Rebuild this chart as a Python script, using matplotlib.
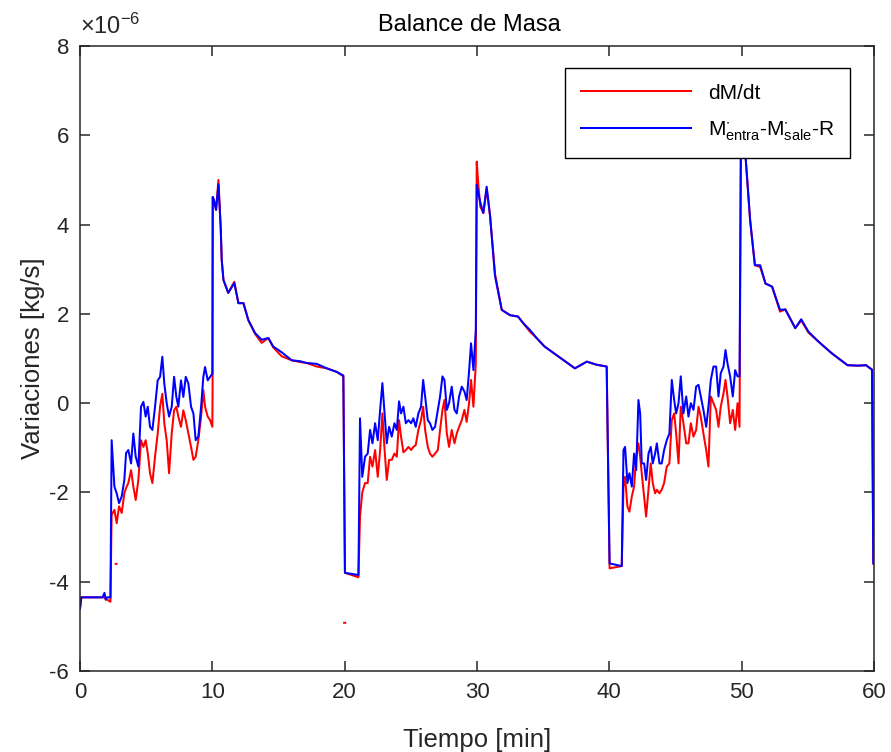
import numpy as np
import matplotlib
matplotlib.use("Agg")
import matplotlib.pyplot as plt
from matplotlib.ticker import FuncFormatter

plt.rcParams['font.family'] = ['Liberation Sans', 'DejaVu Sans']
plt.rcParams['mathtext.fontset'] = 'custom'
plt.rcParams['mathtext.rm'] = 'Liberation Sans'
plt.rcParams['mathtext.it'] = 'Liberation Sans'
plt.rcParams['axes.unicode_minus'] = False

# %% data (values in 1e-6 kg/s, time in min)
# cycle 1
t_start = [0.0, 0.1, 1.7, 1.85, 1.95, 2.05, 2.3]
blue_start = [-4.6, -4.35, -4.35, -4.25, -4.4, -4.35, -4.35]
red_start = [-4.6, -4.35, -4.35, -4.35, -4.4, -4.4, -4.45]

t_noise1 = [2.39, 2.60, 2.77, 2.95, 3.15, 3.35, 3.48, 3.65, 3.86, 4.03, 4.21, 4.41, 4.61, 4.79, 4.96,
            5.12, 5.29, 5.47, 5.67, 5.87, 6.05, 6.22, 6.37, 6.55, 6.73, 6.93, 7.11, 7.28, 7.43, 7.63,
            7.81, 7.99, 8.19, 8.39, 8.57, 8.74, 8.94, 9.15, 9.32, 9.45, 9.65, 9.83, 10.0]
blue_noise1 = [-0.83, -1.87, -2.02, -2.24, -2.09, -1.72, -1.12, -1.05, -1.35, -0.68, -1.20, -1.42, -0.08,
               0.03, -0.30, -0.08, -0.53, -0.60, -0.08, 0.51, 0.59, 1.04, 0.44, 0.0, -0.30, -0.08, 0.59,
               0.14, -0.08, 0.51, 0.14, 0.59, 0.44, -0.08, -0.23, -0.83, -0.75, -0.08, 0.59, 0.81, 0.51,
               0.59, 0.66]
red_noise1 = [-2.5, -2.39, -2.69, -2.31, -2.46, -2.02, -1.9, -1.79, -1.5, -1.87, -2.17, -1.72, -0.83,
              -0.98, -0.83, -1.12, -1.57, -1.79, -1.2, -0.68, -0.08, 0.21, -0.45, -0.83, -1.57, -0.68,
              -0.16, -0.08, -0.30, -0.53, -0.16, -0.38, -0.68, -0.98, -1.27, -1.2, -0.83, -0.30, 0.29,
              -0.08, -0.3, -0.38, -0.53]

t_decay1 = [10.03, 10.12, 10.28, 10.46, 10.63, 10.71, 10.84, 11.2, 11.66, 11.97, 12.35, 12.72, 13.23,
            13.73, 14.23, 14.6, 15.24, 16.0, 16.63, 17.13, 17.89, 18.65, 19.4, 19.9]
blue_decay1 = [4.62, 4.55, 4.33, 4.9, 3.95, 3.2, 2.76, 2.47, 2.69, 2.24, 2.24, 1.86, 1.57, 1.42, 1.46,
               1.27, 1.14, 0.96, 0.94, 0.9, 0.88, 0.78, 0.70, 0.62]
red_decay1 = [4.62, 4.55, 4.33, 5.0, 3.95, 3.2, 2.76, 2.47, 2.72, 2.24, 2.24, 1.86, 1.55, 1.35, 1.46,
              1.25, 1.05, 0.96, 0.92, 0.9, 0.82, 0.78, 0.70, 0.6]

# cycle 2
t_plat2 = [20.02, 21.04]
blue_plat2 = [-3.8, -3.85]
red_plat2 = [-3.8, -3.9]

t_noise2 = [21.16, 21.33, 21.54, 21.74, 21.92, 22.1, 22.3, 22.5, 22.68, 22.85, 23.0, 23.18, 23.36, 23.56,
            23.76, 23.94, 24.11, 24.26, 24.44, 24.62, 24.82, 25.02, 25.19, 25.37, 25.57, 25.77, 25.93,
            26.08, 26.28, 26.45, 26.63, 26.83, 27.04, 27.21, 27.39, 27.54, 27.72, 27.89, 28.09, 28.3,
            28.47, 28.65, 28.85, 29.05, 29.22, 29.4, 29.55, 29.73, 29.91]
blue_noise2 = [-0.34, -1.65, -1.2, -1.13, -0.6, -0.9, -0.45, -0.83, -0.15, 0.45, -0.15, -0.9, -0.53,
               -0.75, -0.45, -0.6, 0.04, -0.23, -0.08, -0.45, -0.38, -0.45, -0.34, -0.53, -0.23, -0.08,
               0.52, 0.15, -0.38, -0.45, -0.6, -0.53, -0.15, 0.15, 0.6, 0.52, -0.15, 0.0, 0.37, -0.15,
               -0.23, 0.15, 0.37, 0.26, 0.07, 0.71, 1.34, 0.74, 1.64]
red_noise2 = [-2.54, -2.0, -1.79, -1.79, -1.2, -1.42, -1.05, -1.65, -1.05, -0.23, -0.98, -1.72, -1.27,
              -1.27, -1.13, -1.2, -0.38, -0.75, -1.1, -1.05, -0.98, -1.05, -0.98, -0.94, -0.6, -0.38,
              -0.08, -0.6, -0.98, -1.13, -1.2, -1.13, -1.05, -0.6, -0.15, 0.07, -0.68, -0.98, -0.6,
              -0.9, -0.68, -0.53, -0.38, -0.15, -0.42, 0.0, 0.52, -0.08, 0.89]

t_decay2 = [29.98, 30.1, 30.25, 30.48, 30.73, 30.99, 31.36, 31.87, 32.5, 33.1, 33.5, 34.0, 34.5, 35.1,
            35.8, 36.5, 37.4, 38.3, 39.05, 39.8]
blue_decay2 = [4.89, 4.7, 4.5, 4.26, 4.85, 4.19, 2.85, 2.09, 1.97, 1.94, 1.79, 1.64, 1.46, 1.27, 1.12,
               0.97, 0.78, 0.93, 0.86, 0.82]
red_decay2 = [5.41, 4.9, 4.4, 4.26, 4.8, 4.19, 2.9, 2.09, 1.97, 1.94, 1.79, 1.6, 1.46, 1.27, 1.12,
              0.97, 0.78, 0.93, 0.86, 0.82]

# cycle 3
t_plat3 = [40.02, 40.94]
blue_plat3 = [-3.59, -3.65]
red_plat3 = [-3.7, -3.65]

t_noise3 = [41.07, 41.19, 41.37, 41.52, 41.7, 41.87, 42.03, 42.2, 42.33, 42.45, 42.63, 42.78, 42.96,
            43.13, 43.28, 43.46, 43.59, 43.79, 43.96, 44.14, 44.34, 44.54, 44.72, 44.9, 45.05, 45.23,
            45.4, 45.6, 45.81, 45.98, 46.16, 46.36, 46.56, 46.74, 46.91, 47.11, 47.32, 47.49, 47.67,
            47.87, 48.07, 48.25, 48.42, 48.63, 48.78, 48.93, 49.13, 49.33, 49.51, 49.69, 49.84]
blue_noise3 = [-1.05, -0.98, -1.79, -1.57, -1.87, -1.13, -1.5, 0.07, -0.23, -1.35, -1.35, -1.72, -1.13,
               -0.98, -1.35, -1.13, -0.9, -1.35, -1.35, -1.05, -0.83, -0.68, 0.52, 0.07, -0.23, 0.0,
               0.6, -0.23, 0.15, -0.3, 0.0, -0.15, 0.37, 0.41, 0.15, -0.15, -0.53, -0.08, 0.52, 0.82,
               0.82, 0.15, 0.67, 0.82, 1.19, 0.89, 0.6, 0.15, 0.74, 0.6, 0.6]
red_noise3 = [-1.87, -1.65, -2.32, -2.43, -2.09, -1.87, -1.2, -0.9, -1.2, -1.57, -2.09, -2.54, -1.94,
              -1.35, -1.79, -2.02, -1.94, -2.02, -1.94, -1.79, -1.42, -1.35, -0.38, -0.23, -0.68, -1.35,
              -0.08, -0.45, -0.9, -0.9, -0.45, -0.75, -0.6, -0.08, -0.3, -0.68, -1.05, -1.42, 0.15,
              0.0, -0.15, -0.53, -0.08, 0.22, 0.52, 0.15, -0.45, -0.15, -0.6, 0.0, -0.53]

t_decay3 = [49.94, 50.05, 50.3, 50.64, 51.0, 51.4, 51.8, 52.3, 52.9, 53.3, 54.05, 54.5, 55.05, 55.8,
            56.8, 58.0, 58.8, 59.4, 59.85, 59.95, 60.0]
blue_decay3 = [5.6, 6.2, 5.5, 4.1, 3.09, 3.09, 2.68, 2.61, 2.09, 2.1, 1.68, 1.88, 1.6, 1.38, 1.12, 0.85,
               0.84, 0.85, 0.75, -3.6, -3.6]
red_decay3 = [5.8, 6.4, 5.5, 4.1, 3.09, 3.05, 2.68, 2.61, 2.05, 2.1, 1.68, 1.85, 1.58, 1.38, 1.12, 0.85,
              0.84, 0.85, 0.75, -3.6, -3.6]

# isolated red samples (drawn as short dashes)
t_red_dash = [np.nan, 2.70, 2.76, np.nan, 19.96, 20.04]
red_dash = [np.nan, -3.6, -3.6, np.nan, -4.92, -4.92]

t_blue = np.concatenate([t_start, t_noise1, t_decay1, t_plat2, t_noise2, t_decay2,
                         t_plat3, t_noise3, t_decay3])
y_blue = np.concatenate([blue_start, blue_noise1, blue_decay1, blue_plat2, blue_noise2, blue_decay2,
                         blue_plat3, blue_noise3, blue_decay3])
t_red = np.concatenate([t_start, t_noise1, [10.02], t_decay1, t_plat2, t_noise2, t_decay2,
                        t_plat3, t_noise3, t_decay3, t_red_dash])
y_red = np.concatenate([red_start, red_noise1, [0.36], red_decay1, red_plat2, red_noise2, red_decay2,
                        red_plat3, red_noise3, red_decay3, red_dash])

# %% plot
dark = '#262626'
fig = plt.figure(figsize=(8.91, 7.52), dpi=100)
ax = fig.add_axes([0.0898, 0.1077, 0.8911, 0.8311])

ax.plot(t_red, y_red * 1e-6, color='r', lw=1.45, label='dM/dt')
ax.plot(t_blue, y_blue * 1e-6, color='b', lw=1.45,
        label=r'M$^{\bullet}_{\mathrm{entra}}$-M$^{\bullet}_{\mathrm{sale}}$-R')

ax.set_xlim(0, 60)
ax.set_ylim(-6e-6, 8e-6)
ax.set_xticks(np.arange(0, 61, 10))
ax.set_yticks(np.arange(-6, 9, 2) * 1e-6)
ax.yaxis.set_major_formatter(FuncFormatter(lambda v, p: f"{v * 1e6:.0f}"))
ax.text(0.0, 1.012, r'$\times$10$^{\mathrm{-6}}$', transform=ax.transAxes,
        fontsize=17, color=dark, ha='left', va='bottom')

ax.tick_params(direction='in', top=True, right=True, length=7, width=1.1,
               labelsize=16, colors=dark, pad=8)
for s in ax.spines.values():
    s.set_color(dark)
    s.set_linewidth(1.1)

ax.set_title('Balance de Masa', fontsize=17, color='black', pad=11, x=0.49)
ax.set_xlabel('Tiempo [min]', fontsize=18.5, color=dark, labelpad=18)
ax.set_ylabel('Variaciones [kg/s]', fontsize=18.5, color=dark, labelpad=3)

leg = ax.legend(loc='upper right', bbox_to_anchor=(0.970, 0.965), borderaxespad=0,
                fontsize=15, fancybox=False, framealpha=1, edgecolor='black',
                handlelength=5.3, borderpad=0.75, labelspacing=0.8)
leg.get_frame().set_linewidth(1.0)

fig.savefig('out.png', dpi=100)
